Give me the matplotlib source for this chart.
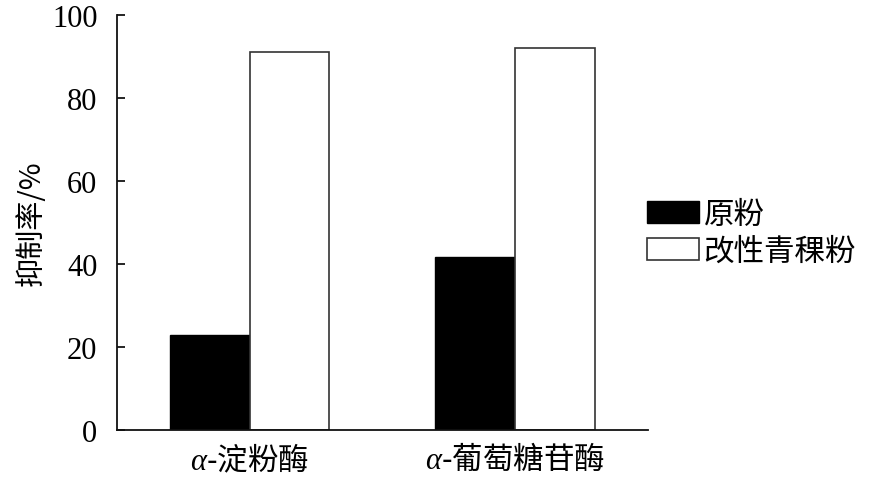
import matplotlib
matplotlib.use("Agg")
import matplotlib.pyplot as plt
import numpy as np

categories = [r"$\alpha$-淀粉酶", r"$\alpha$-葡萄糖苷酶"]
series_names = ["原粉", "改性青稞粉"]
raw_values = [23.0, 41.8]
modified_values = [91.2, 92.0]
y_ticks = [0, 20, 40, 60, 80, 100]

plt.rcParams['mathtext.fontset'] = 'custom'
plt.rcParams['mathtext.it'] = 'Liberation Serif:italic'
plt.rcParams['mathtext.rm'] = 'Liberation Serif'

cjk = ['Noto Sans CJK SC', 'DejaVu Sans']
serif = ['Liberation Serif', 'DejaVu Serif']

fig = plt.figure(figsize=(8.72, 4.89), dpi=100)
ax = fig.add_axes([0.134, 0.1186, 0.609, 0.8487])

x = np.arange(len(categories))
w = 0.3
ax.bar(x - w/2, raw_values, w, color='black', edgecolor='black', linewidth=1.0, label=series_names[0])
ax.bar(x + w/2, modified_values, w, color='white', edgecolor='#333333', linewidth=1.2, label=series_names[1])

ax.set_xlim(-0.5, 1.5)
ax.set_ylim(0, 100)
ax.set_yticks(y_ticks)
ax.set_yticklabels([str(v) for v in y_ticks], fontfamily=serif, fontsize=22)
ax.set_xticks(x)
ax.set_xticklabels(categories, fontfamily=cjk, fontsize=22)

for s in ['top', 'right']:
    ax.spines[s].set_visible(False)
for s in ['left', 'bottom']:
    ax.spines[s].set_linewidth(1.3)
    ax.spines[s].set_color('#111111')

ax.tick_params(axis='y', direction='in', length=6, width=1.2, pad=14)
ax.tick_params(axis='x', length=0, pad=9)

ax.set_ylabel("抑制率/%", fontfamily=cjk, fontsize=21, labelpad=4)

leg = fig.legend(loc='upper left', bbox_to_anchor=(0.742, 0.592), frameon=False,
                 prop={'family': cjk, 'size': 22}, handlelength=1.7, handleheight=0.75,
                 handletextpad=0.15, labelspacing=0.2, borderaxespad=0, borderpad=0)

fig.savefig("out.png", dpi=100)
